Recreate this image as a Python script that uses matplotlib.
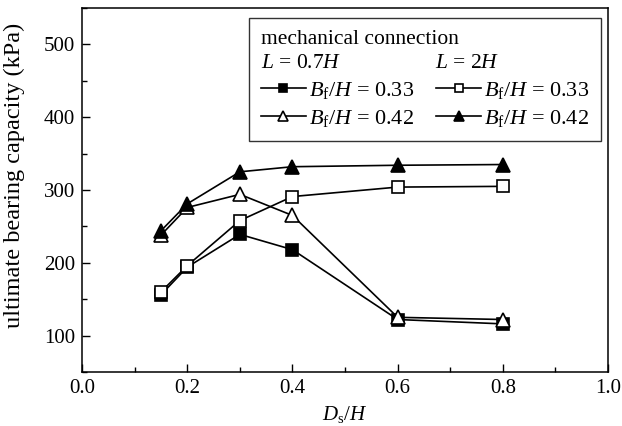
import numpy as np
import matplotlib
matplotlib.use("Agg")
import matplotlib.pyplot as plt
from matplotlib.ticker import MultipleLocator, FormatStrFormatter

plt.rcParams['font.family'] = 'Liberation Serif'
plt.rcParams['mathtext.fontset'] = 'custom'
plt.rcParams['mathtext.rm'] = 'Liberation Serif'
plt.rcParams['mathtext.it'] = 'Liberation Serif:italic'

# D_s/H
ds = [0.15, 0.2, 0.3, 0.4, 0.6, 0.8]
# ultimate bearing capacity (kPa)
short_033 = [156, 194, 239, 218, 122, 116]   # L = 0.7H, Bf/H = 0.33
short_042 = [238, 276, 294, 265, 125, 122]   # L = 0.7H, Bf/H = 0.42
long_033 = [160, 196, 258, 291, 304, 305]    # L = 2H, Bf/H = 0.33
long_042 = [244, 281, 325, 332, 334, 335]    # L = 2H, Bf/H = 0.42

fig = plt.figure(figsize=(6.22, 4.26), dpi=100)
ax = fig.add_axes([0.132, 0.127, 0.8455, 0.854])

line = dict(color='black', lw=1.2, mew=1.2)
l1, = ax.plot(ds, short_033, marker='s', mfc='black', ms=8, **line)
l3, = ax.plot(ds, short_042, marker='^', mfc='white', ms=9.5, **line)
l2, = ax.plot(ds, long_033, marker='s', mfc='white', ms=8, **line)
l4, = ax.plot(ds, long_042, marker='^', mfc='black', ms=9.5, **line)

ax.set_xlim(0, 1.0)
ax.set_ylim(50, 550)
ax.xaxis.set_major_locator(MultipleLocator(0.2))
ax.xaxis.set_minor_locator(MultipleLocator(0.1))
ax.yaxis.set_minor_locator(MultipleLocator(50))
ax.set_yticks([100, 200, 300, 400, 500])
ax.xaxis.set_major_formatter(FormatStrFormatter('%.1f'))
ax.tick_params(which='major', direction='in', length=6, width=1, labelsize=15, pad=5)
ax.tick_params(which='minor', direction='in', length=3.5, width=1)
for s in ax.spines.values():
    s.set_linewidth(1.1)

ax.set_xlabel('$D_\\mathrm{s}/H$', fontsize=15, labelpad=4.5)
ax.set_ylabel('ultimate bearing capacity (kPa)', fontsize=17.5, labelpad=6)
ax.yaxis.set_label_coords(-0.108, 0.54)

labels = ['$B_\\mathrm{f}/H$ = 0.33', '$B_\\mathrm{f}/H$ = 0.42',
          '$B_\\mathrm{f}/H$ = 0.33', '$B_\\mathrm{f}/H$ = 0.42']
title = 'mechanical connection\n$L$ = 0.7$H$' + ' ' * 18 + '$L$ = 2$H$'
leg = ax.legend([l1, l3, l2, l4], labels, ncol=2, loc='upper right',
                bbox_to_anchor=(0.9875, 0.9725), borderaxespad=0,
                fontsize=16, title=title, title_fontsize=15.5,
                alignment='left', frameon=True, fancybox=False,
                handlelength=2.0, handletextpad=0.15, columnspacing=1.0,
                labelspacing=0.3, borderpad=0.55, markerscale=0.8)
leg.get_title().set_linespacing(1.35)
leg.get_frame().set_edgecolor('black')
leg.get_frame().set_linewidth(1.0)

fig.savefig('out.png', dpi=100)
